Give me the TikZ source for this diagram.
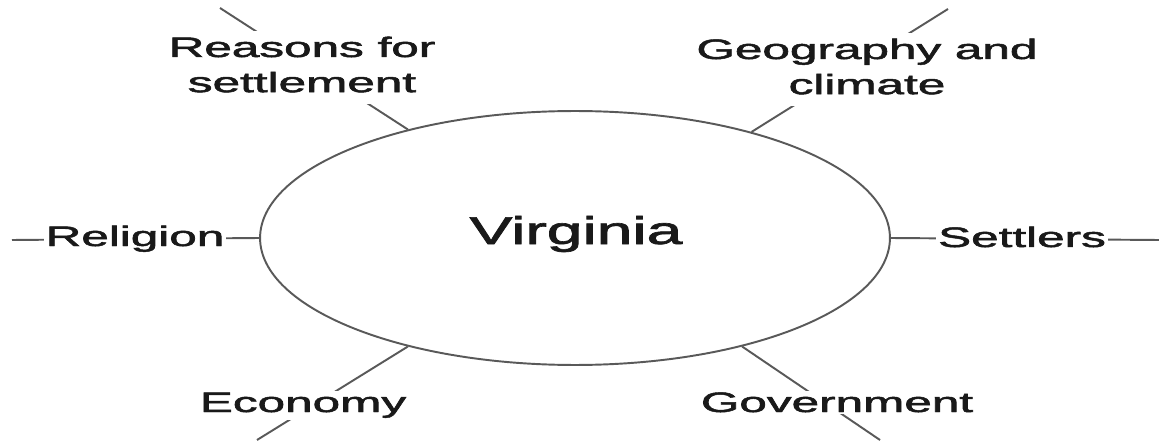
\documentclass[tikz,border=0pt]{standalone}
\usepackage{fontspec}
\setmainfont{Liberation Sans}
\newfontfamily\labelfont{Liberation Sans}[FakeBold=1.6]
\usetikzlibrary{shapes.geometric}

\newcommand{\widetext}[1]{\scalebox{1.76}[1]{#1}}
\tikzset{
  topic/.style={fill=white, inner sep=1pt, anchor=base, text=black!90,
    font=\labelfont\fontsize{16}{20}\selectfont},
  spoke/.style={draw=black!65, line width=1.1pt},
}

\begin{document}
\begin{tikzpicture}[x=0.02cm, y=-0.02cm]
	    \useasboundingbox (0,0) rectangle (1159,442);
	    \node[ellipse, draw=black!65, line width=1.1pt, minimum width=12.6cm, minimum height=5.08cm] (virginia) at (575,238) {};
	    \node[anchor=base, text=black!90, font=\labelfont\fontsize{22}{26}\selectfont] (title) at (576,244) {\scalebox{1.66}[1]{Virginia}};

	    % free ends of the spokes
	    \coordinate (reasonsend) at (220,8);
	    \coordinate (geographyend) at (948,9);
	    \coordinate (religionend) at (12,240);
	    \coordinate (settlersend) at (1159,240);
	    \coordinate (economyend) at (257,440);
	    \coordinate (governmentend) at (880,440);

	    \draw[spoke] (virginia.147) -- (reasonsend);
	    \draw[spoke] (virginia.31) -- (geographyend);
	    \draw[spoke] (virginia.west) -- (religionend);
	    \draw[spoke] (virginia.east) -- (settlersend);
	    \draw[spoke] (virginia.213) -- (economyend);
	    \draw[spoke] (virginia.327) -- (governmentend);

	    \node[topic] (reasons) at (302,57) {\widetext{\begin{tabular}[t]{@{}c@{}}Reasons for\\settlement\end{tabular}}};
	    \node[topic] (geography) at (867,59) {\widetext{\begin{tabular}[t]{@{}c@{}}Geography and\\climate\end{tabular}}};
	    \node[topic] (religion) at (135,246) {\widetext{Religion}};
	    \node[topic] (settlers) at (1022,247) {\widetext{Settlers}};
	    \node[topic] (economy) at (303,412) {\widetext{Economy}};
	    \node[topic] (government) at (837,412) {\widetext{Government}};
\end{tikzpicture}
\end{document}
